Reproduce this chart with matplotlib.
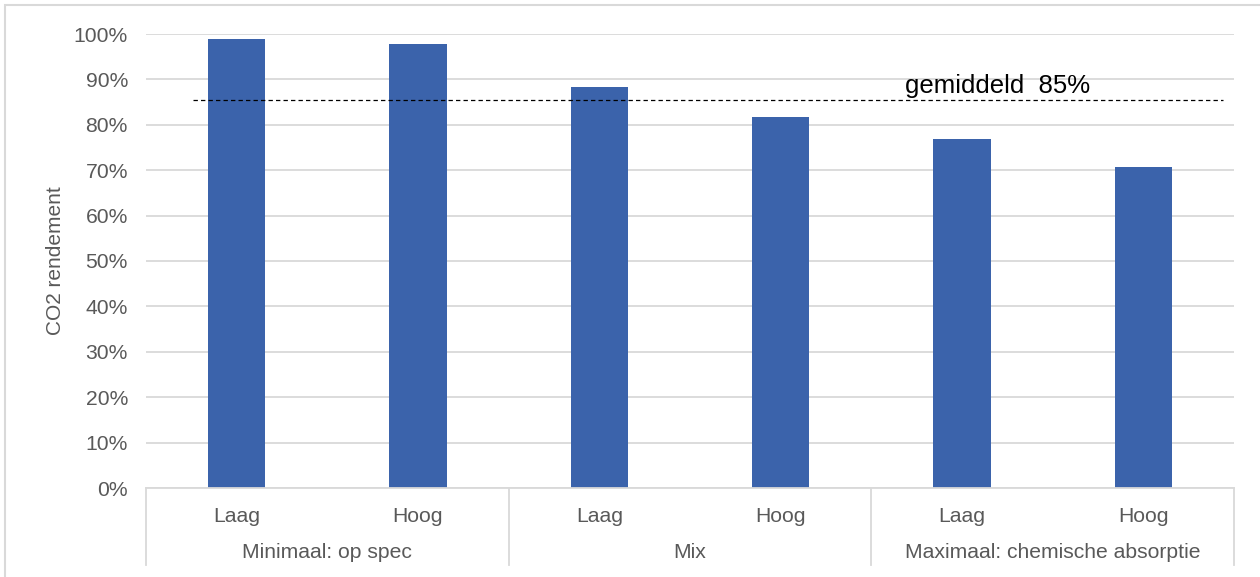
import numpy as np
import matplotlib.pyplot as plt
from matplotlib.patches import Rectangle

plt.rcParams['font.family'] = ['Liberation Sans', 'DejaVu Sans']

# Data
groups = ['Minimaal: op spec', 'Mix', 'Maximaal: chemische absorptie']
levels = ['Laag', 'Hoog']
values = [0.99, 0.978, 0.883, 0.817, 0.769, 0.707]
avg_value = 0.854
avg_label = 'gemiddeld  85%'
yticks = np.arange(0, 1.01, 0.1)

grey_txt = '#595959'
grid_col = '#d9d9d9'
bar_col = '#3b63ab'
fs = 15.2

fig = plt.figure(figsize=(12.6, 5.77), dpi=100)
ax = fig.add_axes([146 / 1260, 1 - 488 / 577, 1088 / 1260, 454 / 577])

x = np.arange(len(values))
ax.bar(x, values, width=0.315, color=bar_col, zorder=3)

ax.set_xlim(-0.5, len(values) - 0.5)
ax.set_ylim(0, 1.0)
ax.set_yticks(yticks)
ax.set_yticklabels([f'{int(round(t * 100))}%' for t in yticks])
ax.tick_params(axis='y', length=0, pad=13, labelsize=fs, labelcolor=grey_txt)
ax.tick_params(axis='x', length=0, labelbottom=False)
ax.yaxis.grid(True, color=grid_col, lw=1.3, zorder=0)
for s in ['top', 'right', 'left']:
    ax.spines[s].set_visible(False)
ax.spines['bottom'].set_color(grid_col)
ax.spines['bottom'].set_linewidth(1.3)
ax.spines['bottom'].set_zorder(4)

# average line
ax.hlines(avg_value, -0.24, 5.44, colors='black', linestyles=(0, (3.5, 2.5)), lw=0.9, zorder=4)
ax.text(3.686, 0.885, avg_label, fontsize=18.5, color='black', ha='left', va='center', zorder=5)

# y label
ax.text(-0.0836, 0.5, 'CO2 rendement', rotation=90, transform=ax.transAxes,
        ha='center', va='center', fontsize=15, color=grey_txt)

# multi-level category axis
trans = ax.get_xaxis_transform()
for b in [-0.5, 1.5, 3.5, 5.5]:
    ax.plot([b, b], [0, -0.17], transform=trans, color=grid_col, lw=1.3, clip_on=False)
for i in range(len(values)):
    ax.text(x[i], -0.062, levels[i % 2], transform=trans, ha='center', va='center',
            fontsize=fs, color=grey_txt)
for g, name in enumerate(groups):
    ax.text(2 * g + 0.5, -0.141, name, transform=trans, ha='center', va='center',
            fontsize=fs, color=grey_txt)

# outer frame
fig.patches.append(Rectangle((5 / 1260, -0.05), 1.1, 1.05 - 5 / 577, transform=fig.transFigure,
                             fill=False, edgecolor=grid_col, lw=1.5))

fig.savefig('out.png', dpi=100)
